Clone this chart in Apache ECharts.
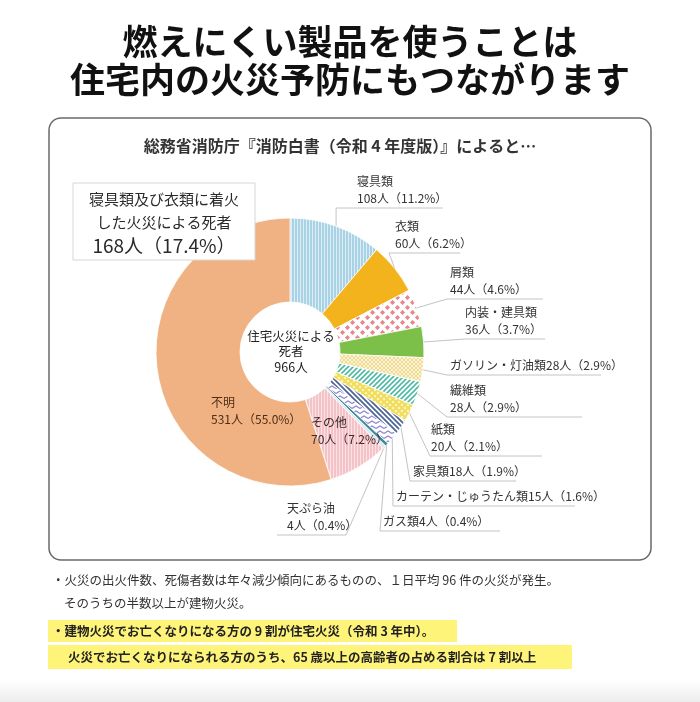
<!DOCTYPE html>
<html><head><meta charset="utf-8">
<script src="https://cdn.jsdelivr.net/npm/echarts@6/dist/echarts.min.js"></script>
<style>html,body{margin:0;padding:0;background:#fff}#c{width:700px;height:702px}</style>
</head><body><div id="c"></div>
<script>
// ---- data ----
const categories = ['寝具類','衣類','屑類','内装・建具類','ガソリン・灯油類','繊維類','紙類','家具類','カーテン・じゅうたん類','ガス類','天ぷら油','その他','不明'];
const deaths = [108,60,44,36,28,28,20,18,15,4,4,70,531];
const singleLineLabels = ['ガソリン・灯油類','家具類','カーテン・じゅうたん類','ガス類'];
const titleLines = ['燃えにくい製品を使うことは','住宅内の火災予防にもつながります'];
const headerText = '総務省消防庁『消防白書（令和 4 年度版）』によると…';
const boxLines = ['寝具類及び衣類に着火','した火災による死者','168人（17.4%）'];
const centerLines = ['住宅火災による','死者','966人'];
const notes = ['・火災の出火件数、死傷者数は年々減少傾向にあるものの、１日平均 96 件の火災が発生。','そのうちの半数以上が建物火災。'];
const highlights = ['・建物火災でお亡くなりになる方の 9 割が住宅火災（令和 3 年中）。','火災でお亡くなりになられる方のうち、65 歳以上の高齢者の占める割合は 7 割以上'];

const total = deaths.reduce((a,b)=>a+b,0);
const FONT = '"Noto Sans CJK JP","Noto Sans",sans-serif';

// ---- label placement (layout only) ----
const labelPos = [
  {tx:357, uy:208, jx:null, ex:443},
  {tx:395, uy:253, jx:389, ex:460},
  {tx:450, uy:299, jx:447, ex:543},
  {tx:465, uy:339, jx:465, ex:545},
  {tx:450, uy:375, jx:447, ex:601},
  {tx:450, uy:417, jx:447, ex:582},
  {tx:431, uy:456, jx:430, ex:542},
  {tx:413, uy:481, jx:410, ex:516},
  {tx:396, uy:506, jx:393, ex:575},
  {tx:383, uy:531, jx:380, ex:500},
  {tx:287, uy:535, jx:346, ex:277},
  {inside:true, tx:311, ty:414},
  {inside:true, tx:211, ty:394}
];

// ---- patterns ----
function pat(w,h,bg,draw){const c=document.createElement('canvas');c.width=w;c.height=h;const g=c.getContext('2d');g.fillStyle=bg;g.fillRect(0,0,w,h);if(draw)draw(g,w,h);return {image:c,repeat:'repeat'};}
function diag(g,s,col,lw,dir){g.strokeStyle=col;g.lineWidth=lw;g.beginPath();
  if(dir>0){g.moveTo(0,s);g.lineTo(s,0);g.moveTo(-s/2,s/2);g.lineTo(s/2,-s/2);g.moveTo(s/2,s+s/2);g.lineTo(s+s/2,s/2);}
  else{g.moveTo(0,0);g.lineTo(s,s);g.moveTo(-s/2,s/2);g.lineTo(s/2,s+s/2);g.moveTo(s/2,-s/2);g.lineTo(s+s/2,s/2);}
  g.stroke();}
const fills = [
  pat(3,3,'#a9d2e4',g=>{g.fillStyle='#dcedf5';g.fillRect(0,0,1,3);}),
  '#f2b31d',
  pat(10,10,'#ffffff',g=>{g.fillStyle='#e9858b';[[2.5,2.5],[7.5,7.5]].forEach(p=>{g.beginPath();g.moveTo(p[0],p[1]-2.6);g.lineTo(p[0]+2.6,p[1]);g.lineTo(p[0],p[1]+2.6);g.lineTo(p[0]-2.6,p[1]);g.closePath();g.fill();});}),
  '#7cc04a',
  pat(4,4,'#fdf4cf',(g,w)=>{diag(g,4,'#ead48c',0.8,1);diag(g,4,'#ead48c',0.8,-1);}),
  pat(5,5,'#ffffff',g=>diag(g,5,'#4fbaa3',1.6,1)),
  pat(6,6,'#fff8c4',g=>{diag(g,6,'#f0dd60',2.2,1);diag(g,6,'#f0dd60',2.2,-1);}),
  pat(5,5,'#ffffff',g=>diag(g,5,'#4d6696',1.8,-1)),
  pat(8,5,'#ffffff',g=>{g.strokeStyle='#8e84d2';g.lineWidth=1.2;g.beginPath();g.moveTo(0,3.5);g.lineTo(4,1);g.lineTo(8,3.5);g.stroke();}),
  '#3e8b9a',
  '#dfe9ee',
  pat(3,3,'#f3c3c8',g=>{g.fillStyle='#fbe2e5';g.fillRect(0,0,1,3);}),
  '#f1b283'
];

const data = categories.map((name,i)=>{
  const d = {name, value: deaths[i], itemStyle:{color: fills[i]}};
  if (labelPos[i].inside) {
    d.label = {position:'inside', color: i===12 ? '#4d2e14' : '#3d2a2a'};
    d.labelLine = {show:false};
  }
  return d;
});

const chart = echarts.init(document.getElementById('c'), null, {renderer:'canvas'});

const graphics = [];
// title
titleLines.forEach((t,i)=>graphics.push({type:'text', x:350, y:42+i*38, z:20,
  style:{text:t, font:'bold 35px '+FONT, fill:'#111', textAlign:'center', textVerticalAlign:'middle', align:'center', verticalAlign:'middle'}}));
// frame
graphics.push({type:'rect', z:0, shape:{x:49,y:118,width:602,height:442,r:12}, style:{fill:'#fff', stroke:'#6a6a6a', lineWidth:1.5}});
graphics.push({type:'text', x:340, y:146, z:20,
  style:{text:headerText, font:'bold 16px '+FONT, fill:'#333', textAlign:'center', textVerticalAlign:'middle', align:'center', verticalAlign:'middle'}});
// summary box
graphics.push({type:'rect', z:20, shape:{x:73,y:183,width:182,height:77}, style:{fill:'#fff', stroke:'#d6d6d6', lineWidth:1}});
boxLines.forEach((t,i)=>graphics.push({type:'text', x:164, y:[199,222,246][i], z:21,
  style:{text:t, font:(i===2?'19px ':'15px ')+FONT, fill:'#2a2a2a', textAlign:'center', textVerticalAlign:'middle', align:'center', verticalAlign:'middle'}}));
// center
centerLines.forEach((t,i)=>graphics.push({type:'text', x:291, y:336+i*15.5, z:21,
  style:{text:t, font:'12.5px '+FONT, fill:'#222', textAlign:'center', textVerticalAlign:'middle', align:'center', verticalAlign:'middle'}}));
// notes
graphics.push({type:'text', x:52, y:580, z:20, style:{text:notes[0], font:'12.5px '+FONT, fill:'#333', textVerticalAlign:'middle', verticalAlign:'middle'}});
graphics.push({type:'text', x:64, y:603, z:20, style:{text:notes[1], font:'12.5px '+FONT, fill:'#333', textVerticalAlign:'middle', verticalAlign:'middle'}});
graphics.push({type:'rect', z:10, shape:{x:48,y:620,width:409,height:22}, style:{fill:'#fff47a'}});
graphics.push({type:'rect', z:10, shape:{x:48,y:645,width:524,height:24}, style:{fill:'#fff47a'}});
graphics.push({type:'text', x:52, y:631, z:20, style:{text:highlights[0], font:'bold 12.5px '+FONT, fill:'#222', textVerticalAlign:'middle', verticalAlign:'middle'}});
graphics.push({type:'text', x:68, y:657, z:20, style:{text:highlights[1], font:'bold 12.5px '+FONT, fill:'#222', textVerticalAlign:'middle', verticalAlign:'middle'}});
// bottom shade
graphics.push({type:'rect', z:0, shape:{x:0,y:680,width:700,height:22}, style:{fill:new echarts.graphic.LinearGradient(0,0,0,1,[{offset:0,color:'#ffffff'},{offset:1,color:'#ececec'}])}});

chart.setOption({
  animation:false,
  backgroundColor:'#ffffff',
  graphic:{elements:graphics},
  series:[{
    type:'pie', z:5,
    center:[290,352], radius:[50,134],
    startAngle:90, clockwise:true,
    avoidLabelOverlap:false,
    emphasis:{disabled:true},
    itemStyle:{borderColor:'#ffffff', borderWidth:0.8},
    label:{
      show:true, position:'outside', fontFamily:FONT, fontSize:12, lineHeight:17, color:'#333',
      formatter:(p)=>{
        const v = p.value + '人（' + (p.value/total*100).toFixed(1) + '%）';
        return singleLineLabels.includes(p.name) ? p.name + v : p.name + '\n' + v;
      }
    },
    labelLine:{show:true, length:10, length2:10, lineStyle:{color:'#c4c4c4', width:1}},
    labelLayout:(params)=>{
      const L = labelPos[params.dataIndex];
      if (L.inside) return {x:L.tx, y:L.ty, align:'left', verticalAlign:'top'};
      const pts = params.labelLinePoints;
      const p0 = pts ? pts[0] : [L.jx, L.uy];
      const jx = L.jx == null ? p0[0] : L.jx;
      return {x:L.tx, y:L.uy-1, align:'left', verticalAlign:'bottom',
        labelLinePoints:[[p0[0],p0[1]],[jx,L.uy],[L.ex,L.uy]]};
    },
    data:data
  }]
});
</script></body></html>
